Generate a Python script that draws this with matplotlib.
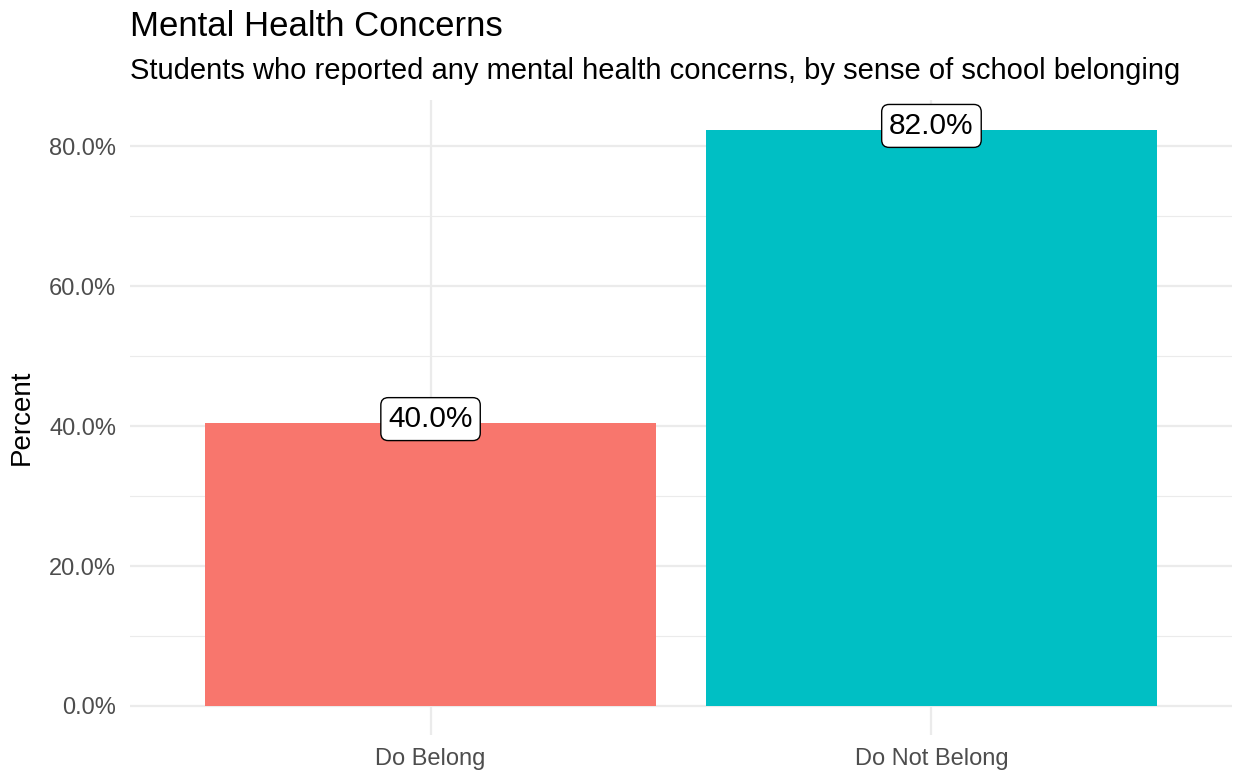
import matplotlib
matplotlib.use("Agg")
from matplotlib import pyplot as plt

groups = ["Do Belong", "Do Not Belong"]
percent = [40.4, 82.3]
labels = ["40.0%", "82.0%"]
colors = ["#F8766D", "#00BFC4"]
yticks = [0, 20, 40, 60, 80]
minor_ticks = [10, 30, 50, 70]

plt.rcParams['font.family'] = ['Liberation Sans', 'DejaVu Sans']

fig = plt.figure(figsize=(12.36, 7.7), dpi=100)
ax = fig.add_axes([130 / 1236, 35 / 770, 1102 / 1236, 635 / 770])

x = list(range(1, len(groups) + 1))
ax.bar(x, percent, width=0.9, color=colors, zorder=2)

for xi, v, lab in zip(x, percent, labels):
    ax.annotate(lab, (xi, v), xytext=(0, 3), textcoords='offset points',
                ha='center', va='center', fontsize=21.5, color='black', zorder=3,
                bbox=dict(boxstyle='round,pad=0.25,rounding_size=0.25', fc='white', ec='black', lw=1))

ax.set_xlim(0.4, 2.6)
ax.set_ylim(-4.15, 86.6)
ax.set_xticks(x)
ax.set_xticklabels(groups)
ax.set_yticks(yticks)
ax.set_yticklabels([f"{t:.1f}%" for t in yticks])
ax.set_yticks(minor_ticks, minor=True)

ax.grid(True, which='major', color='#EBEBEB', lw=1.6, zorder=0)
ax.grid(True, which='minor', axis='y', color='#EBEBEB', lw=0.8, zorder=0)
ax.tick_params(which='both', length=0)
ax.tick_params(axis='both', labelsize=17, labelcolor='#4D4D4D')
ax.tick_params(axis='x', pad=9)
ax.tick_params(axis='y', pad=10)
for s in ax.spines.values():
    s.set_visible(False)

ax.set_ylabel("Percent", fontsize=20, labelpad=10)

fig.text(130 / 1236, 1 - 26 / 770, "Mental Health Concerns", fontsize=25, ha='left', va='center')
fig.text(130 / 1236, 1 - 71 / 770,
         "Students who reported any mental health concerns, by sense of school belonging",
         fontsize=21, ha='left', va='center')

fig.savefig("out.png", dpi=100, facecolor='white')
